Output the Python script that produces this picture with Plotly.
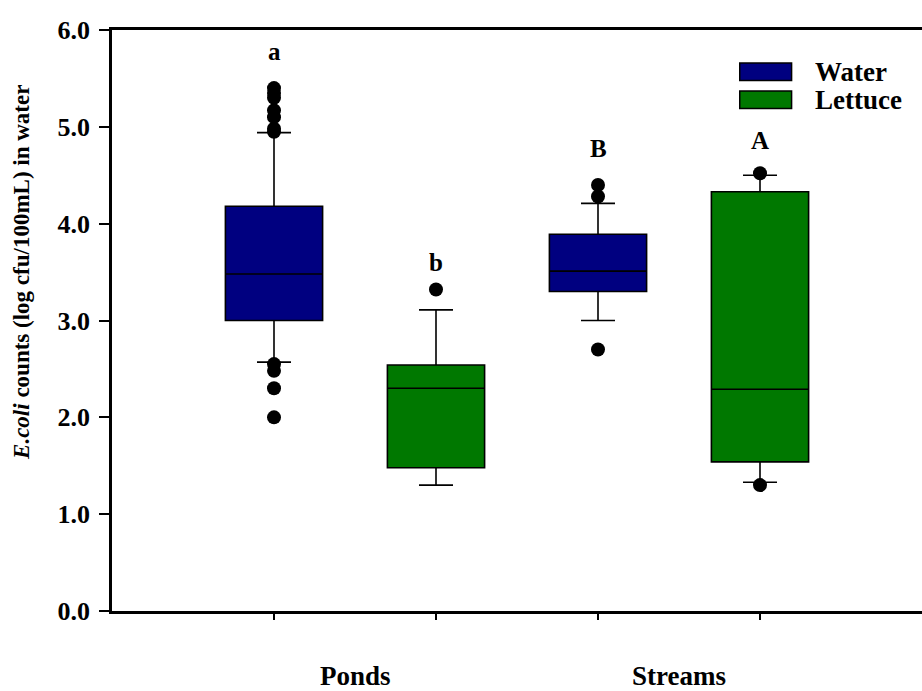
import plotly.graph_objects as go

# ---- data ----
groups = ["Ponds", "Streams"]
positions_water = [1, 3]
positions_lettuce = [2, 4]

water_q1 = [3.00, 3.30]
water_median = [3.48, 3.51]
water_q3 = [4.18, 3.89]
water_lower = [2.57, 3.00]
water_upper = [4.94, 4.21]

lettuce_q1 = [1.48, 1.54]
lettuce_median = [2.30, 2.29]
lettuce_q3 = [2.54, 4.33]
lettuce_lower = [1.30, 1.33]
lettuce_upper = [3.11, 4.50]

water_out_x = [1, 1, 1, 1, 1, 1, 1, 1, 1, 1, 1, 3, 3, 3]
water_out_y = [5.40, 5.35, 5.30, 5.17, 5.10, 4.98, 4.95, 2.55, 2.48, 2.30, 2.00, 4.40, 4.28, 2.70]
lettuce_out_x = [2, 4, 4]
lettuce_out_y = [3.32, 4.52, 1.30]

letters = ["a", "b", "B", "A"]
letter_x = [1, 2, 3, 4]
letter_y = [5.78, 3.60, 4.78, 4.86]

NAVY = "#000080"
GREEN = "#007800"
FONT = "Liberation Serif"

fig = go.Figure()
fig.add_trace(go.Box(x=positions_water, q1=water_q1, median=water_median, q3=water_q3,
                     lowerfence=water_lower, upperfence=water_upper,
                     fillcolor=NAVY, line=dict(color="black", width=1.6),
                     width=0.6, whiskerwidth=0.35, boxpoints=False, name="Water",
                     showlegend=False))
fig.add_trace(go.Box(x=positions_lettuce, q1=lettuce_q1, median=lettuce_median, q3=lettuce_q3,
                     lowerfence=lettuce_lower, upperfence=lettuce_upper,
                     fillcolor=GREEN, line=dict(color="black", width=1.6),
                     width=0.6, whiskerwidth=0.35, boxpoints=False, name="Lettuce",
                     showlegend=False))
fig.add_trace(go.Scatter(x=water_out_x + lettuce_out_x, y=water_out_y + lettuce_out_y,
                         mode="markers", marker=dict(color="black", size=14),
                         showlegend=False))

for t, x, y in zip(letters, letter_x, letter_y):
    fig.add_annotation(x=x, y=y, text="<b>%s</b>" % t, showarrow=False,
                       font=dict(family=FONT, size=25, color="black"))

for i, g in enumerate(groups):
    cx = (positions_water[i] + positions_lettuce[i]) / 2
    fig.add_annotation(x=cx, y=-0.112, xref="x", yref="paper", yanchor="middle",
                       text="<b>%s</b>" % g, showarrow=False,
                       font=dict(family=FONT, size=27, color="black"))

# y-axis title as annotation (offset upward like reference)
fig.add_annotation(xref="paper", yref="paper", x=-0.111, y=0.582, textangle=-90,
                   xanchor="center", yanchor="middle", showarrow=False,
                   text="<b><i>E.coli</i> counts (log cfu/100mL) in water</b>",
                   font=dict(family=FONT, size=23, color="black"))

# legend (drawn manually)
legend_items = [("Water", NAVY), ("Lettuce", GREEN)]
for k, (name, col) in enumerate(legend_items):
    y0 = 0.913 - k * 0.048
    fig.add_shape(type="rect", xref="paper", yref="paper", x0=0.775, x1=0.839,
                  y0=y0, y1=y0 + 0.030, fillcolor=col, line=dict(color="black", width=1.5))
    fig.add_annotation(xref="paper", yref="paper", x=0.866, y=y0 + 0.015,
                       xanchor="left", yanchor="middle", text="<b>%s</b>" % name,
                       showarrow=False, font=dict(family=FONT, size=27, color="black"))

fig.update_layout(
    width=922, height=691,
    margin=dict(l=112, r=0, t=30, b=80),
    paper_bgcolor="white", plot_bgcolor="white",
    boxmode="overlay",
    font=dict(family=FONT, color="black"),
    xaxis=dict(range=[0, 5], tickvals=letter_x, ticktext=["", "", "", ""],
               ticks="outside", ticklen=6, tickwidth=1.5, tickcolor="black",
               showline=True, linecolor="black", linewidth=2.5, mirror=True,
               showgrid=False, zeroline=False, fixedrange=True),
    yaxis=dict(range=[0, 6], dtick=1, tickformat=".1f",
               ticks="outside", ticklen=10, tickwidth=1.5, tickcolor="black",
               showline=True, linecolor="black", linewidth=2.5,
               showgrid=False, zeroline=False, ticklabelstandoff=4,
               tickfont=dict(family=FONT, size=26, color="black", weight="bold")),
)

fig.write_html("out.html")
